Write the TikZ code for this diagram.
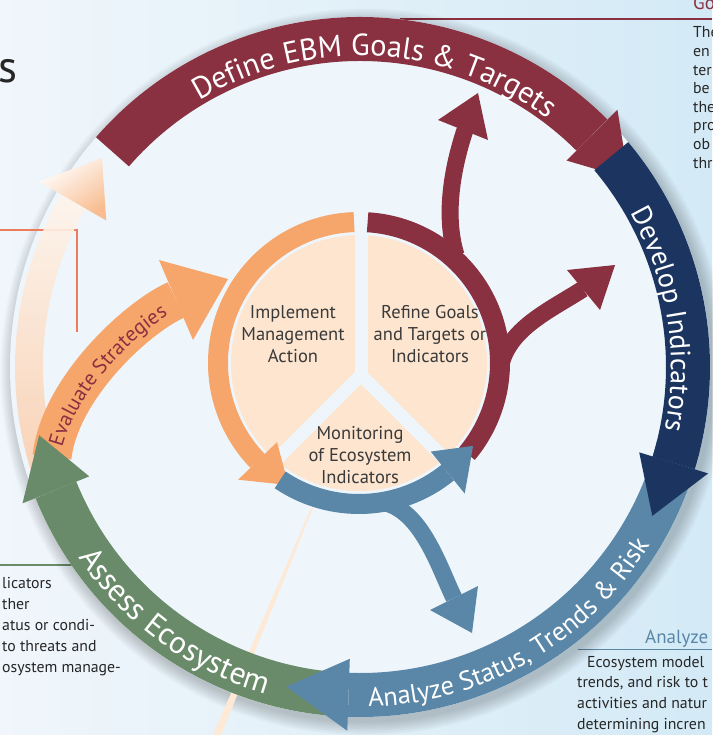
\documentclass[tikz,border=0pt]{standalone}
\usepackage{fontspec}
\setmainfont{PT Sans}
\usetikzlibrary{decorations.text}

\definecolor{ebmred}{HTML}{8A3141}
\definecolor{ebmnavy}{HTML}{1B3560}
\definecolor{ebmblue}{HTML}{5A87A7}
\definecolor{ebmgreen}{HTML}{6A8B69}
\definecolor{ebmorange}{HTML}{F6A66B}
\definecolor{ebmpeach}{HTML}{FDE5CF}
\definecolor{ebmtext}{HTML}{3A3A3A}
\definecolor{ebmline}{HTML}{EE7B5B}
\definecolor{bginner}{HTML}{EEF6FC}
\definecolor{bgleft}{HTML}{F0F6FB}
\definecolor{bgright}{HTML}{D3EAF6}

\newcommand{\bandfont}{\fontsize{30.5}{33}\selectfont}

\tikzset{
  band/.style={line width=44pt},
  ring/.style={line width=20pt},
  twig/.style={line width=17pt},
  pietext/.style={text=ebmtext, align=center, font=\fontsize{18.5}{22}\selectfont},
  sidetext/.style={text=black!85, anchor=base west, inner sep=0pt, font=\fontsize{15.8}{18}\selectfont},
  sidehead/.style={anchor=base west, inner sep=0pt, font=\fontsize{19}{22}\selectfont},
}

\begin{document}
\begin{tikzpicture}[x=1pt, y=1pt]
\useasboundingbox (-360,-368) rectangle (352,367);
\shade[left color=bgleft, right color=bgright] (-360,-368) rectangle (352,367);

% side columns, cut by the page edge
\draw[ebmred, line width=1.2pt] (40,348) -- (352,348);
\node[sidehead, text=ebmred] (gohead) at (333,357) {Go};
\foreach \txt [count=\i from 0] in {The,en,ter,be,the,pro,ob,thr}
  \node[sidetext] (goal\i) at (333,329-18.6*\i) {\txt};
\node[anchor=base west, inner sep=0pt, text=black!85, font=\fontsize{45}{48}\selectfont] (bigs) at (-362,284) {s};
\draw[ebmgreen, line width=1.2pt] (-360,-198) -- (-287,-198);
\foreach \txt [count=\i from 0] in {licators, ther, atus or condi-, to threats and, osystem manage-}
  \node[sidetext] (assess\i) at (-358,-221-21*\i) {\txt};
\node[sidehead, text=ebmblue] (anhead) at (285,-276) {Analyze};
\draw[ebmblue, line width=1pt] (218,-282) -- (352,-282);
\node[sidetext] (an0) at (227,-300) {Ecosystem model};
\foreach \txt [count=\i from 1] in {{trends, and risk to t}, activities and natur, determining incren}
  \node[sidetext] (an\i) at (217,-300-20.7*\i) {\txt};

% big circle with a soft shadow
\foreach \r in {1,...,9}
  \fill[black, opacity=0.022] (4,-5) circle (349+1.6*\r);
\fill[bginner] (0,0) circle (350);
\fill[ebmpeach!85!white] (-47,-141) -- (-139,-368) -- (-147,-368) -- (-49,-141) -- cycle;
\draw[ebmline, line width=1.3pt] (-360,137) -- (-283,137) -- (-283,35);

% faded way back to the goals
\shade[top color=ebmpeach!40!white, bottom color=ebmorange!60!white, opacity=0.9]
  (205:345) arc[start angle=205, end angle=150, radius=345] -- (150:317)
  arc[start angle=150, end angle=205, radius=317] -- cycle;
\shade[top color=white, bottom color=ebmorange!75!white, shading angle=35]
  (150:371) -- (141:332) -- (150:293) -- cycle;

% evaluate strategies
\draw[line width=39pt, ebmorange] (-308,-90) .. controls (-300,-20) and (-221,51) .. (-184,67);
\fill[ebmorange] (-201,107) -- (-132,88) -- (-167,27) -- cycle;
\path[decorate, decoration={text along path, text align=center, text color=ebmred,
  text={|\fontsize{21}{22}\selectfont|Evaluate Strategies}}]
  (-301,-97) .. controls (-293,-27) and (-214,44) .. (-177,60);

% outer cycle
\foreach \col/\a/\b/\t in {ebmgreen/265/202/192, ebmblue/-14/-92/-103, ebmred/139/45/35, ebmnavy/40/-17/-27}{
  \draw[band, draw=\col] (\a:328) arc[start angle=\a, end angle=\b, radius=328];
  \fill[fill=\col] (\b:364) -- (\t:328) -- (\b:292) -- cycle;
}
\path[decorate, decoration={text along path, text align=center, text color=white,
  text={|\bandfont|Define EBM Goals {\&} Targets}}]
  (150:311) arc[start angle=150, end angle=24, radius=311];
\path[decorate, decoration={text along path, text align=center, text color=white,
  text={|\fontsize{28}{30}\selectfont|Develop Indicators}}]
  (50:311) arc[start angle=50, end angle=-32, radius=311];
\path[decorate, decoration={text along path, text align=center, text color=white,
  text={|\fontsize{26.5}{30}\selectfont|Analyze Status, Trends {\&} Risk}}]
  (-135:340) arc[start angle=-135, end angle=15, radius=340];
\path[decorate, decoration={text along path, text align=center, text color=white,
  text={|\fontsize{31.5}{34}\selectfont|Assess Ecosystem}}]
  (172:340) arc[start angle=172, end angle=296, radius=340];

% inner pie
\begin{scope}[shift={(-1,4)}]
  \fill[ebmpeach] (0,0) circle (128);
  \foreach \ang in {90,225,-45}
    \draw[line width=13pt, bginner] (2,-12) -- ++(\ang:140);
  \draw[ring, ebmred] (86.5:141) arc[start angle=86.5, end angle=-40, radius=141];
  \draw[twig, ebmred] (97,108) .. controls (84,150) and (95,200) .. (106,233);
  \fill[ebmred] (79,243) -- (119,270) -- (129,223) -- cycle;
  \draw[twig, ebmred] (140.5,-12) .. controls (143,32) and (190,52) .. (224,74);
  \fill[ebmred] (208,93) -- (256,98) -- (241,53) -- cycle;
  \draw[ring, ebmorange] (92:141) arc[start angle=92, end angle=224, radius=141];
  \fill[ebmorange] (224:168) -- (240:141) -- (224:114) -- cycle;
  \draw[ring, ebmblue] (236:141) arc[start angle=236, end angle=309, radius=141];
  \fill[ebmblue] (309:168) -- (324:141) -- (309:114) -- cycle;
  \draw[twig, ebmblue] (22,-139) .. controls (62,-145) and (80,-204) .. (95,-235);
  \fill[ebmblue] (71,-247) -- (113,-270) -- (119,-223) -- cycle;
\end{scope}
\node[pietext] (implement) at (-67,33) {Implement\\Management\\Action};
\node[pietext] (refine) at (70,33) {Refine Goals\\and Targets or\\Indicators};
\node[pietext] (monitor) at (0,-88) {Monitoring\\of Ecosystem\\Indicators};
\end{tikzpicture}
\end{document}
